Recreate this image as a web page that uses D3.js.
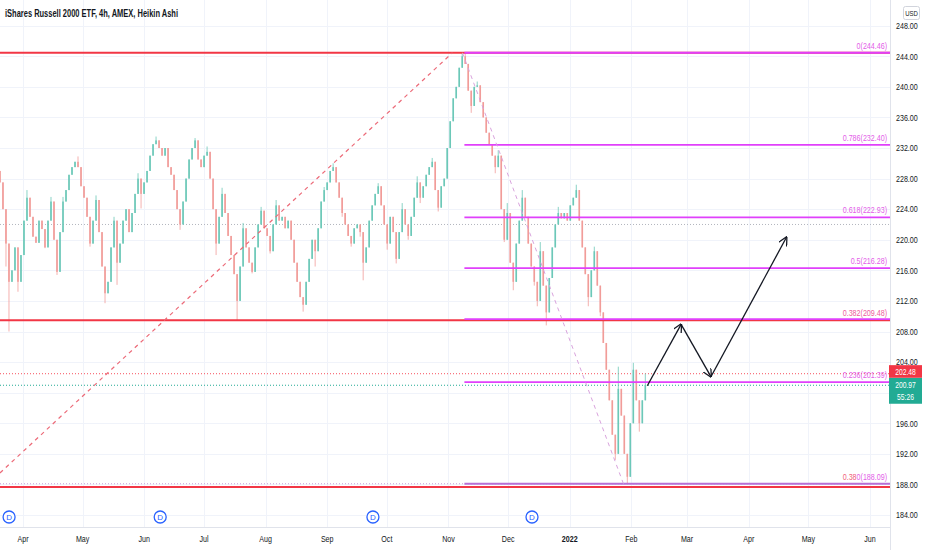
<!DOCTYPE html>
<html>
<head>
<meta charset="utf-8">
<script src="https://cdn.jsdelivr.net/npm/d3@7"></script>
<style>
  body { margin: 0; background: #fff; }
  svg { display: block; font-family: "Liberation Sans", Arial, sans-serif; }
</style>
</head>
<body>
<script>
const title = "iShares Russell 2000 ETF, 4h, AMEX, Heikin Ashi";

// bars run evenly from firstBar to lastBar
const firstBar = new Date(2021, 2, 20, 10);
const lastBar = new Date(2022, 1, 8);
const firstOpen = 229.0;

const closes = [
  // late Mar - Jun 2021
  227.5, 224.0, 219.5, 214.5, 216.0, 219.0, 214.5, 218.0, 222.5, 225.5,
  223.0, 220.4, 219.6, 222.5, 221.4, 219.0, 222.5, 225.0, 220.0, 215.8,
  221.0, 225.0, 226.5, 228.5, 229.5, 230.2, 229.5, 227.0, 225.5, 223.0,
  219.5, 222.5, 225.2, 221.0, 216.5, 213.0, 214.5, 219.0, 222.5, 217.0,
  219.5, 222.5, 224.0, 221.0, 223.5, 226.0, 228.0, 226.0, 227.5, 229.0,
  231.0, 232.5, 233.0,
  // Jun - Aug 2021
  232.0, 231.0, 232.0, 229.5, 228.5, 226.5, 224.0, 222.0, 225.0, 228.0,
  230.5, 232.0, 233.0, 230.5, 229.5, 231.0, 231.5, 228.0, 224.0, 219.5,
  223.0, 226.0, 223.5, 220.5, 218.0, 215.5, 212.0, 216.5, 221.5, 219.0,
  217.0, 215.8, 219.0, 222.0, 223.8, 221.5, 220.5, 218.5, 222.0, 224.5,
  222.5, 223.0, 221.5, 222.5, 220.0, 217.0, 214.5, 212.5, 211.5, 214.5,
  217.5, 220.0, 218.5,
  // Aug - Nov 2021
  221.5, 225.0, 226.5, 227.5, 229.0, 229.5, 227.5, 225.5, 223.5, 222.0,
  220.5, 219.5, 221.5, 222.0, 221.0, 217.0, 219.0, 222.5, 224.5, 226.0,
  227.0, 224.5, 222.0, 219.5, 223.0, 221.0, 217.5, 221.0, 224.0, 222.0,
  220.5, 223.0, 225.5, 227.5, 225.5, 227.0, 228.5, 229.5, 230.2, 226.5,
  224.2, 227.0, 228.0, 232.0, 235.5, 238.5, 240.0, 242.5, 244.0,
  // Nov 2021 - Feb 2022
  243.0, 239.5, 237.5, 240.0, 240.2, 238.0, 236.0, 234.0, 232.5, 231.0,
  229.5, 231.0, 224.0, 220.0, 223.5, 217.0, 214.5, 219.5, 222.5, 225.5,
  223.0, 219.5, 216.5, 214.5, 212.0, 218.5, 214.0, 210.5, 215.0, 219.0,
  222.0, 223.5, 222.8, 223.5, 222.5, 224.5, 225.5, 226.5, 222.5, 219.0,
  215.5, 212.5, 216.0, 218.5, 214.0, 210.5, 206.5, 203.0, 199.0, 194.5,
  192.0, 200.5, 197.0, 192.0, 189.0, 196.0, 203.0, 199.0, 196.0, 199.0,
  201.0
];

// [bar index, price] for wicks that reach beyond the body
const wickLows = [
  [2, 216.5], [3, 208.0], [6, 213.2], [15, 218.9], [19, 215.4], [30, 219.1],
  [35, 211.7], [39, 214.1], [47, 224.1],
  [60, 221.3], [72, 218.0], [79, 209.5], [84, 215.6], [90, 218.2], [101, 210.6], [105, 216.5],
  [106, 220.0], [114, 223.0], [117, 219.1], [120, 220.4], [121, 214.7], [129, 218.7],
  [132, 216.9], [136, 220.0], [140, 224.8], [146, 223.7],
  [157, 236.6], [165, 228.7], [168, 219.7], [171, 213.4], [178, 214.0], [179, 211.3],
  [182, 208.8], [196, 211.3], [200, 210.0], [205, 191.2], [209, 188.09], [213, 194.9]
];
const wickHighs = [
  [9, 226.5], [17, 225.6], [21, 225.6], [26, 230.9], [32, 225.8], [38, 223.0],
  [46, 228.7], [52, 233.5],
  [65, 233.3], [69, 232.2], [74, 226.8], [81, 222.2], [87, 224.3], [92, 225.2],
  [108, 226.9], [111, 230.0], [126, 227.4], [134, 224.8], [139, 228.3], [144, 230.7], [154, 244.46],
  [155, 244.4], [159, 240.7], [166, 231.7], [169, 224.8], [174, 226.5], [180, 219.7],
  [186, 224.3], [192, 227.2], [198, 219.1], [206, 203.4], [211, 203.9], [215, 202.5]
];

const priceTicks = [184, 188, 192, 196, 200, 204, 208, 212, 216, 220, 224, 228, 232, 236, 240, 244, 248];

// fibonacci retracement drawn from the Nov high to the Jan low
const fibStart = new Date(2021, 10, 9);
const fibRatios = ["0", "0.786", "0.618", "0.5", "0.382", "0.236", "0"];
const fibValues = [244.46, 232.40, 222.93, 216.28, 209.62, 201.39, 188.09];
// red horizontal levels; their labels sit under the fib labels
const redValues = [244.46, 209.48, 187.66];
const redRatios = ["0", "0.382", "0.382"];

const trendLine = [[new Date(2021, 2, 20, 10), 189.5], [new Date(2021, 10, 3), 244.46]];
const fibTrend = [[new Date(2021, 10, 8), 244.46], [new Date(2022, 0, 28), 188.09]];
const arrowPath = [
  [new Date(2022, 1, 9), 200.9],
  [new Date(2022, 1, 26), 208.94],
  [new Date(2022, 2, 13), 202.09],
  [new Date(2022, 3, 20), 220.32]
];

const dividends = [new Date(2021, 2, 25), new Date(2021, 5, 9), new Date(2021, 8, 24), new Date(2021, 11, 13)];
const lastPrice = 200.97;
const prevPrice = 202.48;
const countdown = "55:26";
const sessionLine = 222.0;

const width = 932;
const height = 550;
const paneW = 890;
const paneH = 527;

const x = d3.scaleTime()
  .domain([new Date(2021, 3, 1), new Date(2022, 5, 1)])
  .range([23, 870]);
const y = d3.scaleLinear().domain([182.43, 251.36]).range([paneH, 0]);
const xi = d3.scaleLinear().domain([0, closes.length - 1]).range([x(firstBar), x(lastBar)]);

const svg = d3.select("body").append("svg")
  .attr("width", width)
  .attr("height", height);

const squeeze = 0.75;
function label(g, px, py, txt) {
  return g.append("text")
    .attr("transform", "translate(" + px + "," + py + ") scale(" + squeeze + ",1)")
    .text(txt);
}

// grid
const grid = svg.append("g").attr("stroke", "#f0f3fa").attr("stroke-width", 1);
grid.selectAll("line.h").data(priceTicks).enter().append("line")
  .attr("x1", 0).attr("x2", paneW)
  .attr("y1", d => Math.round(y(d)) + 0.5).attr("y2", d => Math.round(y(d)) + 0.5);
const months = x.ticks(d3.timeMonth.every(1)).filter(d => x(d) > 0 && x(d) < paneW);
grid.selectAll("line.v").data(months).enter().append("line")
  .attr("y1", 0).attr("y2", paneH)
  .attr("x1", d => Math.round(x(d)) + 0.5).attr("x2", d => Math.round(x(d)) + 0.5);

// dotted price lines
const dotted = [[sessionLine, "#b2b5be"], [prevPrice, "#f7525f"], [lastPrice, "#22ab94"], [188.09, "#c9a0dc"]];
svg.append("g").selectAll("line").data(dotted).enter().append("line")
  .attr("x1", 0).attr("x2", paneW)
  .attr("y1", d => y(d[0])).attr("y2", d => y(d[0]))
  .attr("stroke", d => d[1])
  .attr("stroke-width", 1)
  .attr("stroke-dasharray", "1,2");

// candles
const lowMap = new Map(wickLows);
const highMap = new Map(wickHighs);
const bars = closes.map((c, i) => {
  const o = i ? closes[i - 1] : firstOpen;
  const h = Math.max(o, c, highMap.has(i) ? highMap.get(i) : -Infinity);
  const l = Math.min(o, c, lowMap.has(i) ? lowMap.get(i) : Infinity);
  return { i, o, c, h, l };
});
const upColor = "#6cc8b8";
const downColor = "#f19c99";
const candles = svg.append("g");
candles.selectAll("line").data(bars).enter().append("line")
  .attr("x1", d => xi(d.i)).attr("x2", d => xi(d.i))
  .attr("y1", d => y(d.h)).attr("y2", d => y(d.l))
  .attr("stroke", d => d.c >= d.o ? upColor : downColor)
  .attr("stroke-width", 0.8);
candles.selectAll("rect").data(bars).enter().append("rect")
  .attr("x", d => xi(d.i) - 0.8)
  .attr("width", 1.6)
  .attr("y", d => y(Math.max(d.o, d.c)))
  .attr("height", d => Math.max(1, Math.abs(y(d.o) - y(d.c))))
  .attr("fill", d => d.c >= d.o ? upColor : downColor);

// red horizontal levels
svg.append("g").selectAll("line").data(redValues).enter().append("line")
  .attr("x1", 0).attr("x2", paneW)
  .attr("y1", d => y(d)).attr("y2", d => y(d))
  .attr("stroke", "#f23645")
  .attr("stroke-width", 2);

// fib levels
svg.append("g").selectAll("line").data(fibValues).enter().append("line")
  .attr("x1", x(fibStart)).attr("x2", paneW)
  .attr("y1", d => y(d)).attr("y2", d => y(d))
  .attr("stroke", (d, i) => i === fibValues.length - 1 ? "#b86fd6" : "#e040fb")
  .attr("stroke-width", 1.8);

// dashed trend lines
const line = d3.line().x(d => x(d[0])).y(d => y(d[1]));
svg.append("path").attr("d", line(trendLine))
  .attr("fill", "none").attr("stroke", "#ec6a78")
  .attr("stroke-width", 1.2).attr("stroke-dasharray", "4,4");
svg.append("path").attr("d", line(fibTrend))
  .attr("fill", "none").attr("stroke", "#d9a3dd")
  .attr("stroke-width", 1).attr("stroke-dasharray", "4,4");

// level labels: where a red level and a fib level share a row the two labels
// are drawn as one line, as they print on top of each other in the chart
const levelText = svg.append("g")
  .attr("font-size", "9.5px")
  .attr("text-anchor", "end");
const fibText = (i) => fibRatios[i] + "(" + fibValues[i].toFixed(2) + ")";
[0, 1, 2, 3, 5].forEach(i => {
  label(levelText, paneW - 3, y(fibValues[i]) - 4, fibText(i)).attr("fill", "#e35de8");
});
label(levelText, paneW - 3, y(redValues[1]) - 4, redRatios[1] + "(" + redValues[1].toFixed(2) + ")")
  .attr("fill", "#ee5a9c");
const bottomLabel = label(levelText, paneW - 3, y(fibValues[6]) - 4, "");
bottomLabel.append("tspan").attr("fill", "#f0607a").text(redRatios[2].slice(0, 4));
bottomLabel.append("tspan").attr("fill", "#e35de8").text(fibText(6));

// hand-drawn arrows
const defs = svg.append("defs");
defs.append("marker")
  .attr("id", "head")
  .attr("viewBox", "0 0 10 10")
  .attr("refX", 9).attr("refY", 5)
  .attr("markerWidth", 9).attr("markerHeight", 9)
  .attr("markerUnits", "userSpaceOnUse")
  .attr("orient", "auto")
  .append("path")
  .attr("d", "M0,0 L10,5 L0,10")
  .attr("fill", "none")
  .attr("stroke", "#131722")
  .attr("stroke-width", 1.4);
svg.append("g").selectAll("line").data(d3.pairs(arrowPath)).enter().append("line")
  .attr("x1", d => x(d[0][0])).attr("y1", d => y(d[0][1]))
  .attr("x2", d => x(d[1][0])).attr("y2", d => y(d[1][1]))
  .attr("stroke", "#131722")
  .attr("stroke-width", 1.3)
  .attr("marker-end", "url(#head)");

// dividend markers
const divs = svg.append("g").selectAll("g").data(dividends).enter().append("g")
  .attr("transform", d => "translate(" + x(d) + ",517)");
divs.append("circle").attr("r", 6)
  .attr("fill", "#fff").attr("stroke", "#2962ff").attr("stroke-width", 1.3);
divs.append("text").attr("text-anchor", "middle").attr("y", 3)
  .attr("font-size", "8px").attr("fill", "#2962ff").text("D");

// pane borders
svg.append("line").attr("x1", paneW + 0.5).attr("x2", paneW + 0.5)
  .attr("y1", 0).attr("y2", height).attr("stroke", "#e0e3eb");
svg.append("line").attr("x1", 0).attr("x2", paneW)
  .attr("y1", paneH + 0.5).attr("y2", paneH + 0.5).attr("stroke", "#e0e3eb");

// last price tags (the axis hides tick labels they cover)
const tagX = paneW - 1;
const tagW = 33;
const greenTop = y(lastPrice) - 7.5;
const tagTop = greenTop - 12.6;
const tagBottom = greenTop + 26;

// price axis
const yAxis = svg.append("g").attr("font-size", "9.5px").attr("fill", "#131722");
priceTicks
  .filter(v => y(v) + 3 < tagTop || y(v) - 4 > tagBottom)
  .forEach(v => label(yAxis, 896, y(v) + 3.3, v.toFixed(2)));

// time axis
const fmt = d3.timeFormat("%b");
const xAxis = svg.append("g").attr("font-size", "9.5px").attr("fill", "#131722").attr("text-anchor", "middle");
months.forEach(d => {
  const t = label(xAxis, x(d), 541.5, d.getMonth() === 0 ? String(d.getFullYear()) : fmt(d));
  if (d.getMonth() === 0) t.attr("font-weight", "bold");
});

svg.append("rect").attr("x", tagX).attr("y", greenTop).attr("width", tagW).attr("height", 26)
  .attr("fill", "#22ab94");
svg.append("rect").attr("x", tagX).attr("y", tagTop).attr("width", tagW).attr("height", 12.6)
  .attr("fill", "#f23645");
const tags = svg.append("g").attr("font-size", "9px").attr("fill", "#fff").attr("text-anchor", "middle");
label(tags, tagX + tagW / 2, greenTop - 3, prevPrice.toFixed(2));
const greenTag = label(tags, tagX + tagW / 2, greenTop + 10, "");
greenTag.append("tspan").attr("x", 0).text(lastPrice.toFixed(2));
greenTag.append("tspan").attr("x", 0).attr("dy", 12.5).text(countdown);

// currency box
svg.append("rect").attr("x", 903.5).attr("y", 6.5).attr("width", 16).attr("height", 13).attr("rx", 2)
  .attr("fill", "#fff").attr("stroke", "#d1d4dc");
label(svg.append("g").attr("font-size", "8px").attr("fill", "#131722").attr("text-anchor", "middle"),
  911.5, 16, "USD");

// title
svg.append("text")
  .attr("x", 5).attr("y", 17)
  .attr("font-size", "10.5px")
  .attr("font-weight", "bold")
  .attr("fill", "#131722")
  .attr("textLength", 173)
  .attr("lengthAdjust", "spacingAndGlyphs")
  .text(title);
</script>
</body>
</html>
